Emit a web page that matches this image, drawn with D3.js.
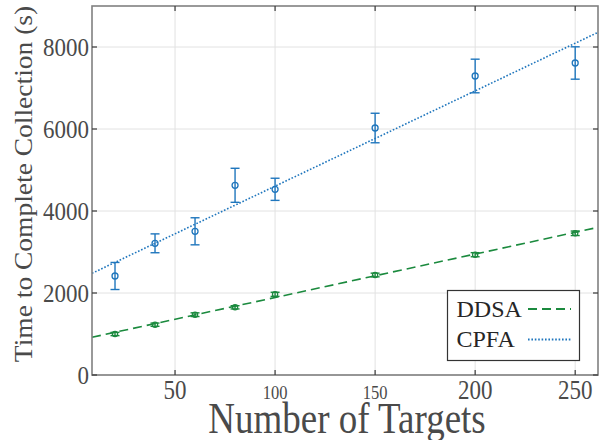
<!DOCTYPE html>
<html lang="en">
<head>
    <meta charset="UTF-8">
    <title>Time to Complete Collection</title>
    <script src="https://cdn.jsdelivr.net/npm/d3@7"></script>
    <style>
        body {
            margin: 0;
            background: #ffffff;
        }

        svg {
            width: 600px;
            height: 440px;
            display: block;
        }

        text {
            font-family: "Liberation Serif", "DejaVu Serif", serif;
            fill: #4a4a4a;
        }
    </style>
</head>
<body>
<svg class="svg"></svg>

<script>

    var targets = [20, 40, 60, 80, 100, 150, 200, 250];
    var ddsaMean = [1000, 1227, 1471, 1651, 1968, 2439, 2934, 3456];
    var ddsaErr = [40, 40, 45, 40, 50, 45, 50, 55];
    var cpfaMean = [2415, 3212, 3505, 4627, 4529, 6024, 7293, 7610];
    var cpfaErr = [330, 230, 330, 415, 270, 360, 410, 395];
    var ddsaFit = [830, 10.6];
    var cpfaFit = [2282, 23.24];
    var xTicks = [50, 100, 150, 200, 250];
    var yTicks = [0, 2000, 4000, 6000, 8000];
    var smallXTicks = [100, 150];
    var legendNames = ['DDSA', 'CPFA'];

    var blue = '#1f76bd';
    var green = '#1b8a3e';

    var svg = d3.select('svg');
    var plotLeft = 92, plotRight = 598, plotTop = 6, plotBottom = 375;

    var x = d3.scaleLinear().domain([8.5, 261.4]).range([plotLeft, plotRight]);
    var y = d3.scaleLinear().domain([0, 9000]).range([plotBottom, plotTop]);

    // grid
    svg.append('g').selectAll('line').data(xTicks).enter().append('line')
        .attr('x1', function (d) { return x(d); })
        .attr('x2', function (d) { return x(d); })
        .attr('y1', plotTop).attr('y2', plotBottom)
        .style('stroke', '#e2e2e2').style('stroke-width', 1);
    svg.append('g').selectAll('line').data(yTicks).enter().append('line')
        .attr('y1', function (d) { return y(d); })
        .attr('y2', function (d) { return y(d); })
        .attr('x1', plotLeft).attr('x2', plotRight)
        .style('stroke', '#e2e2e2').style('stroke-width', 1);

    // fit lines
    function fitLine(fit) {
        var xs = x.domain();
        return d3.line()
            .x(function (d) { return x(d); })
            .y(function (d) { return y(fit[0] + fit[1] * d); })(xs);
    }

    svg.append('path')
        .attr('d', fitLine(ddsaFit))
        .style('fill', 'none').style('stroke', green)
        .style('stroke-width', 1.6).style('stroke-dasharray', '9,5');
    svg.append('path')
        .attr('d', fitLine(cpfaFit))
        .style('fill', 'none').style('stroke', blue)
        .style('stroke-width', 1.6).style('stroke-dasharray', '1.6,1.8');

    // error bars and markers
    function drawSeries(means, errs, color, r) {
        var g = svg.append('g');
        var rows = targets.map(function (t, i) {
            return {t: t, m: means[i], e: errs[i]};
        });
        g.selectAll('.bar').data(rows).enter().append('line')
            .attr('x1', function (d) { return x(d.t); })
            .attr('x2', function (d) { return x(d.t); })
            .attr('y1', function (d) { return y(d.m - d.e); })
            .attr('y2', function (d) { return y(d.m + d.e); })
            .style('stroke', color).style('stroke-width', 1.4);
        [-1, 1].forEach(function (s) {
            g.selectAll('.cap' + s).data(rows).enter().append('line')
                .attr('x1', function (d) { return x(d.t) - 4.5; })
                .attr('x2', function (d) { return x(d.t) + 4.5; })
                .attr('y1', function (d) { return y(d.m + s * d.e); })
                .attr('y2', function (d) { return y(d.m + s * d.e); })
                .style('stroke', color).style('stroke-width', 1.4);
        });
        g.selectAll('circle').data(rows).enter().append('circle')
            .attr('cx', function (d) { return x(d.t); })
            .attr('cy', function (d) { return y(d.m); })
            .attr('r', r)
            .style('fill', 'none').style('stroke', color).style('stroke-width', 1.3);
    }

    drawSeries(ddsaMean, ddsaErr, green, 2.6);
    drawSeries(cpfaMean, cpfaErr, blue, 3);

    // box and ticks
    svg.append('rect')
        .attr('x', plotLeft).attr('y', plotTop)
        .attr('width', plotRight - plotLeft).attr('height', plotBottom - plotTop)
        .style('fill', 'none').style('stroke', '#808080').style('stroke-width', 1.6);

    var tickLen = 5;
    xTicks.forEach(function (t) {
        [[plotBottom, plotBottom - tickLen], [plotTop, plotTop + tickLen]].forEach(function (p) {
            svg.append('line')
                .attr('x1', x(t)).attr('x2', x(t)).attr('y1', p[0]).attr('y2', p[1])
                .style('stroke', '#3a3a3a').style('stroke-width', 1.2);
        });
    });
    yTicks.forEach(function (t) {
        [[plotLeft, plotLeft + tickLen], [plotRight, plotRight - tickLen]].forEach(function (p) {
            svg.append('line')
                .attr('y1', y(t)).attr('y2', y(t)).attr('x1', p[0]).attr('x2', p[1])
                .style('stroke', '#3a3a3a').style('stroke-width', 1.2);
        });
    });

    // tick labels
    svg.append('g').selectAll('text').data(xTicks).enter().append('text')
        .attr('transform', function (d) {
            return 'translate(' + x(d) + ',' + 399 + ') scale(1,1.2)';
        })
        .attr('text-anchor', 'middle')
        .style('font-size', function (d) {
            return smallXTicks.indexOf(d) >= 0 ? '16.5px' : '23px';
        })
        .text(function (d) { return d; });

    svg.append('g').selectAll('text').data(yTicks).enter().append('text')
        .attr('transform', function (d) {
            return 'translate(89,' + y(d) + ') scale(1,1.12)';
        })
        .attr('text-anchor', 'end')
        .attr('dy', '0.34em')
        .style('font-size', '23px')
        .text(function (d) { return d; });

    // axis titles
    svg.append('text')
        .attr('transform', 'translate(347,433) scale(1,1.18)')
        .attr('text-anchor', 'middle')
        .style('font-size', '37px')
        .text('Number of Targets');

    svg.append('text')
        .attr('transform', 'translate(32,184) rotate(-90) scale(1.1,1.04)')
        .attr('text-anchor', 'middle')
        .style('font-size', '25px')
        .text('Time to Complete Collection (s)');

    // legend
    var legend = svg.append('g');
    legend.append('rect')
        .attr('x', 447.5).attr('y', 290.5).attr('width', 132).attr('height', 70)
        .style('fill', '#ffffff').style('stroke', '#333333').style('stroke-width', 1.2);
    var legendStyles = [
        {color: green, dash: '9,5', y: 309},
        {color: blue, dash: '1.6,1.8', y: 339.5}
    ];
    legendNames.forEach(function (name, i) {
        var s = legendStyles[i];
        legend.append('text')
            .attr('x', 456.5).attr('y', s.y + 7.5)
            .style('font-size', '24px')
            .style('fill', '#262626')
            .text(name);
        legend.append('line')
            .attr('x1', 528).attr('x2', 571).attr('y1', s.y).attr('y2', s.y)
            .style('stroke', s.color).style('stroke-width', 1.8)
            .style('stroke-dasharray', s.dash);
    });

</script>

</body>
</html>
